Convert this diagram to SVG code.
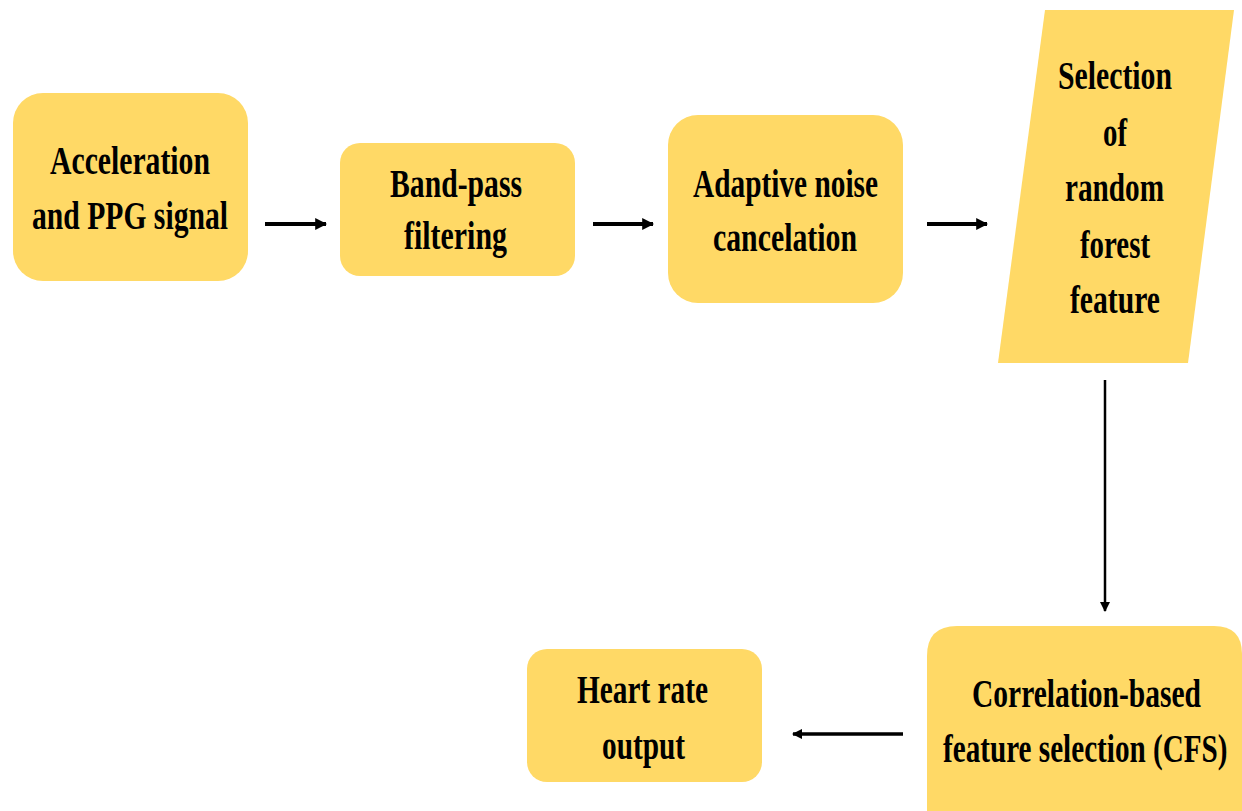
<svg xmlns="http://www.w3.org/2000/svg" width="1242" height="811" viewBox="0 0 1242 811">
<defs>
<style>
.box{fill:#FFD966;}
.t{font-family:"Liberation Serif","Times New Roman",serif;font-weight:bold;font-size:39px;fill:#000;}
.c{stroke:#000;fill:none;}
</style>
<marker id="ah" viewBox="0 0 10 10" refX="9" refY="5" markerWidth="3" markerHeight="3" orient="auto" markerUnits="strokeWidth">
<path d="M0,0 L10,5 L0,10 z" fill="#000"/>
</marker>
<marker id="ah2" viewBox="0 0 10 10" refX="9" refY="5" markerWidth="4" markerHeight="4" orient="auto" markerUnits="strokeWidth">
<path d="M0,0 L10,5 L0,10 z" fill="#000"/>
</marker>
</defs>
<rect width="1242" height="811" fill="#fff"/>
<g id="n1">
<rect class="box" x="13" y="93" width="235" height="188" rx="30"/>
<text class="t" x="50" y="174" textLength="160" lengthAdjust="spacingAndGlyphs">Acceleration</text>
<text class="t" x="32" y="229" textLength="196" lengthAdjust="spacingAndGlyphs">and PPG signal</text>
</g>
<g id="n2">
<rect class="box" x="340" y="143" width="235" height="133" rx="20"/>
<text class="t" x="390" y="197" textLength="132" lengthAdjust="spacingAndGlyphs">Band-pass</text>
<text class="t" x="404" y="249" textLength="103" lengthAdjust="spacingAndGlyphs">filtering</text>
</g>
<g id="n3">
<rect class="box" x="668" y="115" width="235" height="188" rx="30"/>
<text class="t" x="693" y="197" textLength="185" lengthAdjust="spacingAndGlyphs">Adaptive noise</text>
<text class="t" x="713" y="251" textLength="144" lengthAdjust="spacingAndGlyphs">cancelation</text>
</g>
<g id="n4">
<polygon class="box" points="1045,10 1234,10 1188,363 998,363"/>
<text class="t" x="1058" y="89" textLength="114" lengthAdjust="spacingAndGlyphs">Selection</text>
<text class="t" x="1103" y="146" textLength="24" lengthAdjust="spacingAndGlyphs">of</text>
<text class="t" x="1065" y="201" textLength="99" lengthAdjust="spacingAndGlyphs">random</text>
<text class="t" x="1080" y="258" textLength="70" lengthAdjust="spacingAndGlyphs">forest</text>
<text class="t" x="1070" y="313" textLength="90" lengthAdjust="spacingAndGlyphs">feature</text>
</g>
<g id="n5">
<path class="box" d="M957,626 H1214 Q1242,626 1242,654 V811 H927 V656 Q927,626 957,626 Z"/>
<text class="t" transform="translate(972,707) scale(0.757,1)">Correlation-based</text>
<text class="t" transform="translate(943,762) scale(0.748,1)">feature selection (CFS)</text>
</g>
<g id="n6">
<rect class="box" x="527" y="649" width="235" height="133" rx="20"/>
<text class="t" x="577" y="703" textLength="131" lengthAdjust="spacingAndGlyphs">Heart rate</text>
<text class="t" x="602" y="759" textLength="83" lengthAdjust="spacingAndGlyphs">output</text>
</g>
<g id="connectors">
<line class="c" x1="265" y1="224" x2="326" y2="224" stroke-width="4" marker-end="url(#ah)"/>
<line class="c" x1="593" y1="224" x2="653" y2="224" stroke-width="4" marker-end="url(#ah)"/>
<line class="c" x1="927" y1="224" x2="987" y2="224" stroke-width="4" marker-end="url(#ah)"/>
<line class="c" x1="1105" y1="380" x2="1105" y2="611" stroke-width="2.5" marker-end="url(#ah2)"/>
<line class="c" x1="903" y1="734" x2="793" y2="734" stroke-width="3.5" marker-end="url(#ah)"/>
</g>
</svg>
